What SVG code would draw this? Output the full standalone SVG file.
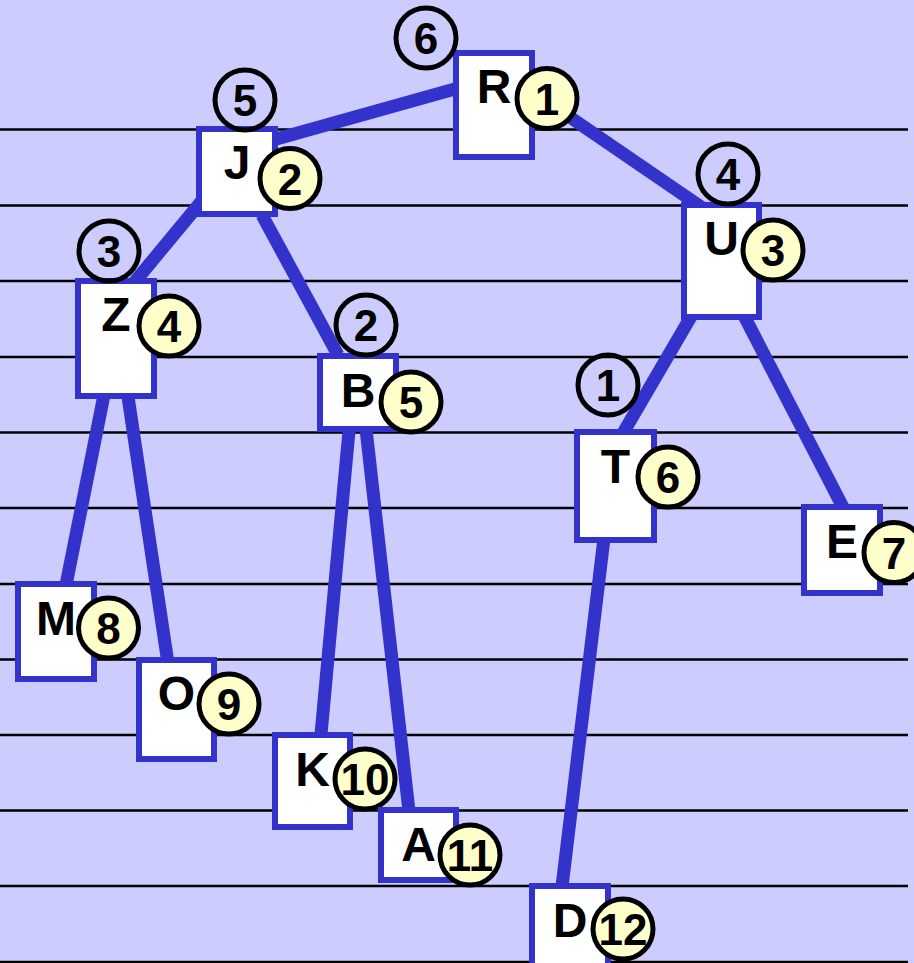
<svg xmlns="http://www.w3.org/2000/svg" width="914" height="963" viewBox="0 0 914 963">
<style>
.rule{stroke:#000;stroke-width:2.6}
.edge{stroke:#3333CC;stroke-width:13;fill:none}
.box{fill:#fff;stroke:#3333CC;stroke-width:6}
.lbl{font-family:"Liberation Sans",Arial,sans-serif;font-weight:bold;font-size:48px;text-anchor:middle;fill:#000}
.num{font-family:"Liberation Sans",Arial,sans-serif;font-weight:bold;font-size:44px;text-anchor:middle;fill:#000}
.yc{fill:#FFFFCC;stroke:#000;stroke-width:5}
.bc{fill:none;stroke:#000;stroke-width:5}
</style>
<rect x="0" y="0" width="914" height="963" fill="#CCCCFF"/>
<g id="rules">
<line class="rule" x1="0" y1="129.5" x2="908" y2="129.5"/>
<line class="rule" x1="0" y1="205.5" x2="908" y2="205.5"/>
<line class="rule" x1="0" y1="281" x2="908" y2="281"/>
<line class="rule" x1="0" y1="357" x2="908" y2="357"/>
<line class="rule" x1="0" y1="432.5" x2="908" y2="432.5"/>
<line class="rule" x1="0" y1="508" x2="908" y2="508"/>
<line class="rule" x1="0" y1="584" x2="908" y2="584"/>
<line class="rule" x1="0" y1="659.5" x2="908" y2="659.5"/>
<line class="rule" x1="0" y1="735" x2="908" y2="735"/>
<line class="rule" x1="0" y1="810.5" x2="908" y2="810.5"/>
<line class="rule" x1="0" y1="886" x2="908" y2="886"/>
<line class="rule" x1="0" y1="962" x2="908" y2="962"/>
</g>
<g id="connectors">
<line class="edge" x1="470" y1="84.7" x2="250" y2="146.3"/>
<line class="edge" x1="520" y1="83" x2="710" y2="213"/>
<line class="edge" x1="202.6" y1="200" x2="128" y2="290"/>
<line class="edge" x1="262" y1="215" x2="338" y2="355"/>
<line class="edge" x1="106" y1="385" x2="64" y2="595"/>
<line class="edge" x1="127" y1="390" x2="169" y2="670"/>
<line class="edge" x1="350" y1="420" x2="320" y2="745"/>
<line class="edge" x1="365" y1="420" x2="410" y2="820"/>
<line class="edge" x1="696" y1="308" x2="619" y2="440"/>
<line class="edge" x1="740" y1="308" x2="847" y2="515"/>
<line class="edge" x1="605" y1="530" x2="561" y2="895"/>
</g>
<g id="node-R">
<rect class="box" x="456" y="53" width="76" height="104"/>
<text class="lbl" x="494" y="103">R</text>
<circle class="yc" cx="547" cy="98.5" r="30"/><text class="num" x="547" y="114.5">1</text>
<circle class="bc" cx="426" cy="38" r="30"/><text class="num" x="426" y="54">6</text>
</g>
<g id="node-J">
<rect class="box" x="199" y="129" width="76" height="85"/>
<text class="lbl" x="237" y="179">J</text>
<circle class="yc" cx="290" cy="178.5" r="30"/><text class="num" x="290" y="194.5">2</text>
<circle class="bc" cx="245" cy="100" r="30"/><text class="num" x="245" y="116">5</text>
</g>
<g id="node-U">
<rect class="box" x="684" y="205" width="75" height="112"/>
<text class="lbl" x="721.5" y="255">U</text>
<circle class="yc" cx="773" cy="250" r="30"/><text class="num" x="773" y="266">3</text>
<circle class="bc" cx="728" cy="174" r="30"/><text class="num" x="728" y="190">4</text>
</g>
<g id="node-Z">
<rect class="box" x="78" y="281" width="76" height="115"/>
<text class="lbl" x="116" y="331">Z</text>
<circle class="yc" cx="169" cy="326" r="30"/><text class="num" x="169" y="342">4</text>
<circle class="bc" cx="109" cy="251" r="30"/><text class="num" x="109" y="267">3</text>
</g>
<g id="node-B">
<rect class="box" x="320" y="356" width="76" height="73"/>
<text class="lbl" x="358" y="407">B</text>
<circle class="yc" cx="411" cy="402" r="30"/><text class="num" x="411" y="418">5</text>
<circle class="bc" cx="366" cy="325" r="30"/><text class="num" x="366" y="341">2</text>
</g>
<g id="node-T">
<rect class="box" x="577" y="432" width="77" height="108"/>
<text class="lbl" x="615.5" y="483">T</text>
<circle class="yc" cx="668" cy="477" r="30"/><text class="num" x="668" y="493">6</text>
<circle class="bc" cx="608" cy="385" r="30"/><text class="num" x="608" y="401">1</text>
</g>
<g id="node-E">
<rect class="box" x="804" y="507" width="76" height="86"/>
<text class="lbl" x="842" y="558">E</text>
<circle class="yc" cx="894" cy="552.5" r="30"/><text class="num" x="894" y="568.5">7</text>
</g>
<g id="node-M">
<rect class="box" x="18" y="584" width="76" height="95"/>
<text class="lbl" x="56" y="635">M</text>
<circle class="yc" cx="108.5" cy="628" r="30"/><text class="num" x="108.5" y="644">8</text>
</g>
<g id="node-O">
<rect class="box" x="139" y="660" width="75" height="99"/>
<text class="lbl" x="176.5" y="710">O</text>
<circle class="yc" cx="229" cy="704" r="30"/><text class="num" x="229" y="720">9</text>
</g>
<g id="node-K">
<rect class="box" x="275" y="735" width="75" height="92"/>
<text class="lbl" x="312.5" y="786">K</text>
<circle class="yc" cx="365" cy="779" r="30"/><text class="num" x="365" y="795">10</text>
</g>
<g id="node-A">
<rect class="box" x="381" y="810" width="75" height="70"/>
<text class="lbl" x="418.5" y="861">A</text>
<circle class="yc" cx="470" cy="855" r="30"/><text class="num" x="470" y="871">11</text>
</g>
<g id="node-D">
<rect class="box" x="532" y="886" width="76" height="90"/>
<text class="lbl" x="570" y="937">D</text>
<circle class="yc" cx="623" cy="929" r="30"/><text class="num" x="623" y="945">12</text>
</g>
</svg>
